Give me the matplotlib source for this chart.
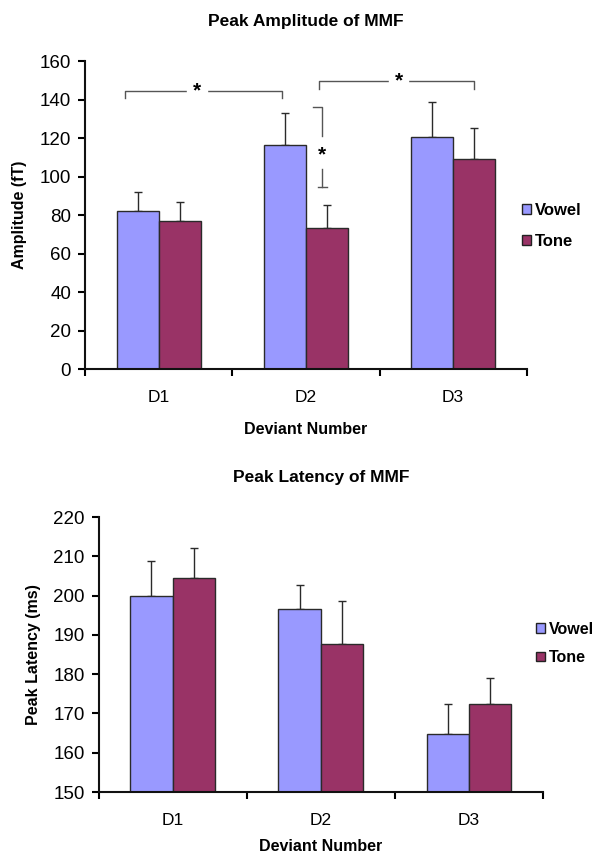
import numpy as np
import matplotlib
matplotlib.use('Agg')
from matplotlib import pyplot as plt
from matplotlib.patches import Patch

plt.rcParams['font.family'] = ['Liberation Sans', 'DejaVu Sans']

categories = ['D1', 'D2', 'D3']
series = ['Vowel', 'Tone']
colors = ['#9999FF', '#993366']

amp_vowel = [82, 116.5, 120.5]
amp_tone = [77, 73.5, 109]
amp_vowel_err = [10, 16.5, 18]
amp_tone_err = [10, 11.5, 16]

lat_vowel = [200, 196.5, 164.7]
lat_tone = [204.5, 187.8, 172.4]
lat_vowel_err = [8.8, 6.3, 7.8]
lat_tone_err = [7.7, 10.7, 6.6]


def draw_panel(ax, vals, errs, title, ylabel, ylim, yticks, leg_xy, leg_size, leg_space, xpad):
    x = np.arange(len(categories))
    w = 1 / 3.5
    for i, (v, e) in enumerate(zip(vals, errs)):
        pos = x + (i - 0.5) * w
        ax.bar(pos, v, w, color=colors[i], edgecolor='#2a2a2a', linewidth=1.0,
               bottom=0, zorder=2)
        ax.errorbar(pos, v, yerr=[np.zeros(len(e)), e], fmt='none',
                    ecolor='#2a2a2a', elinewidth=1.0, capsize=3, capthick=1.0, zorder=1)
    ax.set_xlim(-0.5, 2.5)
    ax.set_ylim(*ylim)
    ax.set_yticks(yticks)
    ax.set_xticks([-0.5, 0.5, 1.5, 2.5])
    ax.set_xticklabels([])
    ax.set_xticks(x, minor=True)
    ax.set_xticklabels(categories, minor=True, fontsize=12.5)
    ax.tick_params(axis='x', which='minor', length=0, pad=15)
    ax.tick_params(axis='x', which='major', direction='out', length=5, width=1.5)
    ax.tick_params(axis='y', direction='out', length=5, width=1.5, labelsize=13.5, pad=5)
    for s in ['top', 'right']:
        ax.spines[s].set_visible(False)
    for s in ['left', 'bottom']:
        ax.spines[s].set_linewidth(1.5)
        ax.spines[s].set_color('#111111')
    ax.set_title(title, fontsize=12.5, fontweight='bold', pad=25)
    ax.set_xlabel('Deviant Number', fontsize=11.5, fontweight='bold', labelpad=xpad)
    ax.set_ylabel(ylabel, fontsize=11.5, fontweight='bold', labelpad=9)
    handles = [Patch(facecolor=c, edgecolor='#222222', linewidth=1.0) for c in colors]
    ax.legend(handles, series, loc='center left', bbox_to_anchor=leg_xy,
              bbox_transform=fig.transFigure, borderaxespad=0, borderpad=0,
              frameon=False, handlelength=0.55, handleheight=0.55, handletextpad=0.25,
              labelspacing=leg_space, prop={'weight': 'bold', 'size': leg_size})


fig = plt.figure(figsize=(5.97, 8.57), dpi=100)
ax1 = fig.add_axes([0.1424, 0.5694, 0.740, 0.3594])
ax2 = fig.add_axes([0.165, 0.0758, 0.7446, 0.3209])

draw_panel(ax1, [amp_vowel, amp_tone], [amp_vowel_err, amp_tone_err],
           'Peak Amplitude of MMF', 'Amplitude (fT)', (0, 160), range(0, 161, 20),
           (0.874, 0.7363), 12, 0.95, 12)
draw_panel(ax2, [lat_vowel, lat_tone], [lat_vowel_err, lat_tone_err],
           'Peak Latency of MMF', 'Peak Latency (ms)', (150, 220), range(150, 221, 10),
           (0.898, 0.2492), 11.5, 0.85, 8)

# significance brackets on the amplitude panel
lc = '#555555'
ax1.plot([-0.23, -0.23, 0.84, 0.84], [140.6, 144.3, 144.3, 140.6], color=lc, lw=1.0, zorder=3)
ax1.text(0.26, 144.3, '*', ha='center', va='center', fontsize=15, fontweight='bold',
         backgroundcolor='white', zorder=4)
ax1.plot([1.09, 1.09, 2.14, 2.14], [145.4, 149.5, 149.5, 145.4], color=lc, lw=1.0, zorder=3)
ax1.text(1.63, 149.5, '*', ha='center', va='center', fontsize=15, fontweight='bold',
         backgroundcolor='white', zorder=4)
ax1.plot([1.05, 1.11, 1.11], [136, 136, 121], color=lc, lw=1.0, zorder=3)
ax1.plot([1.11, 1.11], [104, 94.6], color=lc, lw=1.0, zorder=3)
ax1.plot([1.08, 1.14], [94.6, 94.6], color=lc, lw=1.0, zorder=3)
ax1.text(1.11, 111, '*', ha='center', va='center', fontsize=15, fontweight='bold', zorder=4)

fig.savefig('out.png', dpi=100)
